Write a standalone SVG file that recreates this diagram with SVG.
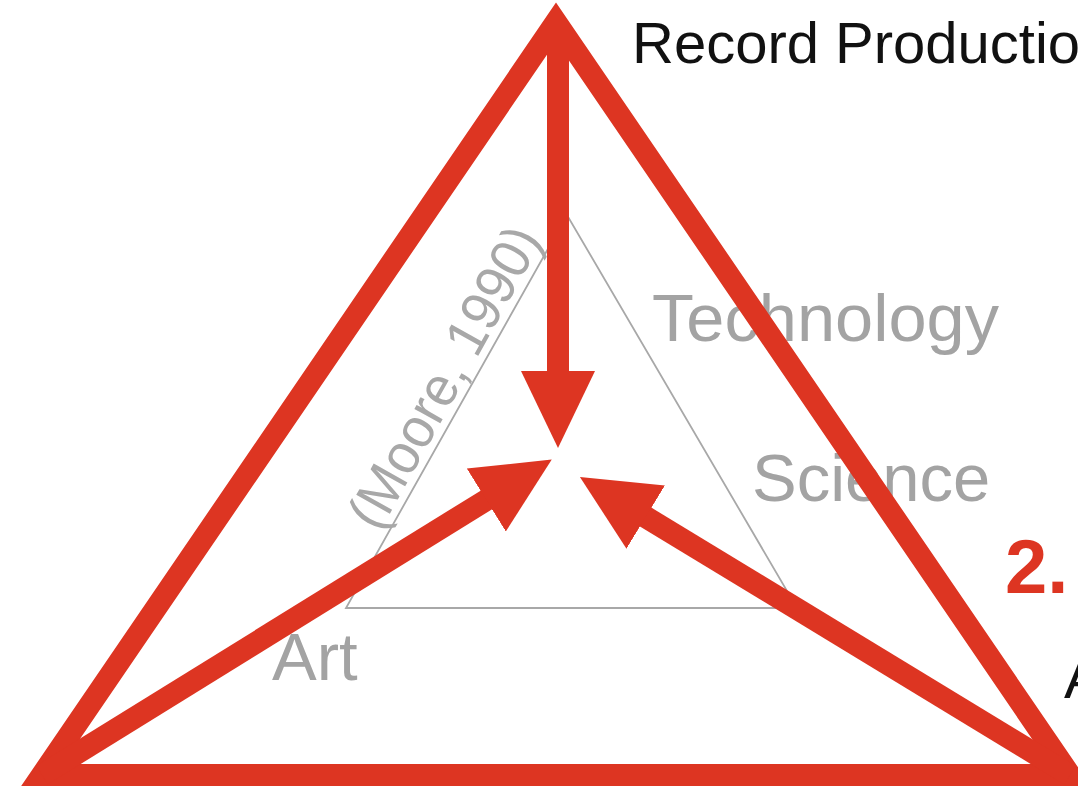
<svg xmlns="http://www.w3.org/2000/svg" width="1078" height="787" viewBox="0 0 1078 787">
  <style>
    .red { stroke: #dd3522; fill: none; stroke-width: 22; }
    .lbl { font-family: "Liberation Sans", Arial, sans-serif; fill: #a3a3a3; font-size: 67px; }
    .cite { font-family: "Liberation Sans", Arial, sans-serif; fill: #a8a8a8; font-size: 56px; }
    .blk { font-family: "Liberation Sans", Arial, sans-serif; fill: #111111; font-size: 58px; }
  </style>
  <defs>
    <marker id="ah" markerUnits="userSpaceOnUse" markerWidth="80" markerHeight="80" viewBox="0 -40 80 80" refX="2" refY="0" orient="auto">
      <path d="M0,-37 L77,0 L0,37 z" fill="#dd3522"/>
    </marker>
  </defs>
  <rect width="1078" height="787" fill="#ffffff"/>

  <g id="inner-triangle">
    <polygon points="567,215 346,608 797,608" fill="none" stroke="#a8a8a8" stroke-width="1.8"/>
  </g>

  <g id="labels">
    <text class="lbl" x="652" y="341" textLength="347" lengthAdjust="spacingAndGlyphs">Technology</text>
    <text class="lbl" x="752" y="501">Science</text>
    <text class="lbl" x="272" y="680">Art</text>
    <text class="cite" transform="translate(379,533) rotate(-60.8)" textLength="336" lengthAdjust="spacingAndGlyphs">(Moore, 1990)</text>
    <text class="blk" x="632" y="63">Record Production</text>
    <text class="blk" x="1064" y="698">A</text>
    <text x="1005" y="593" font-family="Liberation Sans, Arial, sans-serif" font-weight="bold" font-size="76" fill="#dd3522">2.</text>
  </g>

  <g id="outer-triangle">
    <polygon class="red" points="556,22 42,775 1070,775" stroke-linejoin="miter" stroke-miterlimit="10"/>
  </g>

  <g id="connectors">
    <line class="red" stroke-width="21" x1="558" y1="22" x2="558" y2="373" marker-end="url(#ah)"/>
    <line class="red" stroke-width="21" x1="42" y1="775" x2="488" y2="499" marker-end="url(#ah)"/>
    <line class="red" stroke-width="21" x1="1070" y1="775" x2="644" y2="516" marker-end="url(#ah)"/>
  </g>
</svg>
